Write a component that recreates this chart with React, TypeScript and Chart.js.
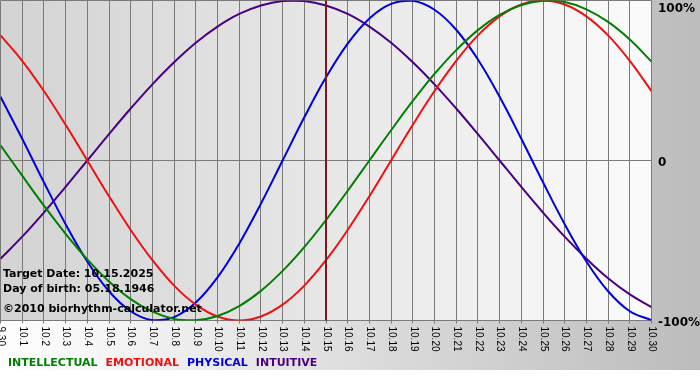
import React, { useEffect, useRef } from "react";
import { Chart, registerables } from "chart.js";

Chart.register(...registerables);

const dayLabels = [
  "9.30", "10.1", "10.2", "10.3", "10.4", "10.5", "10.6", "10.7", "10.8", "10.9", "10.10",
  "10.11", "10.12", "10.13", "10.14", "10.15", "10.16", "10.17", "10.18", "10.19", "10.20",
  "10.21", "10.22", "10.23", "10.24", "10.25", "10.26", "10.27", "10.28", "10.29", "10.30",
];

const intellectual = [
  9.5, -9.5, -28.2, -45.8, -61.8, -75.6, -86.6, -94.5, -99.0, -99.9, -97.2, -91.0, -81.5, -69.0,
  -54.1, -37.2, -18.9, 0, 18.9, 37.2, 54.1, 69.0, 81.5, 91.0, 97.2, 99.9, 99.0, 94.5, 86.6, 75.6, 61.8,
];
const emotional = [
  78.2, 62.3, 43.4, 22.3, 0, -22.3, -43.4, -62.3, -78.2, -90.1, -97.5, -100, -97.5, -90.1, -78.2,
  -62.3, -43.4, -22.3, 0, 22.3, 43.4, 62.3, 78.2, 90.1, 97.5, 100, 97.5, 90.1, 78.2, 62.3, 43.4,
];
const physical = [
  39.8, 13.6, -13.6, -39.8, -63.1, -81.7, -94.2, -99.8, -97.9, -88.8, -73.1, -52.0, -27.0, 0, 27.0,
  52.0, 73.1, 88.8, 97.9, 99.8, 94.2, 81.7, 63.1, 39.8, 13.6, -13.6, -39.8, -63.1, -81.7, -94.2, -99.8,
];
const intuitive = [
  -61.4, -47.6, -32.5, -16.5, 0, 16.5, 32.5, 47.6, 61.4, 73.6, 83.7, 91.6, 96.9, 99.7, 99.7, 96.9,
  91.6, 83.7, 73.6, 61.4, 47.6, 32.5, 16.5, 0, -16.5, -32.5, -47.6, -61.4, -73.6, -83.7, -91.6,
];

const seriesNames = ["INTELLECTUAL", "EMOTIONAL", "PHYSICAL", "INTUITIVE"];
const seriesColors = ["#008000", "#ee1111", "#0000dd", "#4b0082"];
const yTickValues = [100, 0, -100];
const yTickLabels = ["100%", "0", "-100%"];
const targetDay = "10.15";
const infoLines = ["Target Date: 10.15.2025", "Day of birth: 05.18.1946", "\u00a92010 biorhythm-calculator.net"];

const BOLD = "bold 11px 'DejaVu Sans'";

const decorPlugin = {
  id: "decor",
  beforeDraw(chart: any) {
    const { ctx, chartArea: a, width, height } = chart;
    ctx.save();
    ctx.fillStyle = "#ffffff";
    ctx.fillRect(0, 0, width, height);
    const g = ctx.createLinearGradient(0, 0, width, 0);
    g.addColorStop(0, "#ffffff");
    g.addColorStop(1, "#bcbcbc");
    ctx.fillStyle = g;
    ctx.fillRect(0, 0, width, 370);
    const pg = ctx.createLinearGradient(a.left, 0, a.right, 0);
    pg.addColorStop(0, "#d3d3d3");
    pg.addColorStop(1, "#fbfbfb");
    ctx.fillStyle = pg;
    ctx.fillRect(a.left, a.top, a.right - a.left, a.bottom - a.top);
    ctx.restore();
  },
  beforeDatasetsDraw(chart: any) {
    const { ctx, chartArea: a, scales } = chart;
    const xs = scales.x;
    const ys = scales.y;
    ctx.save();
    ctx.strokeStyle = "#7a7a7a";
    ctx.lineWidth = 1;
    dayLabels.forEach((_, i) => {
      const px = Math.floor(xs.getPixelForValue(i)) + 0.5;
      ctx.beginPath();
      ctx.moveTo(px, a.top);
      ctx.lineTo(px, a.bottom + 3);
      ctx.stroke();
    });
    yTickValues.forEach((v) => {
      const py = Math.floor(ys.getPixelForValue(v)) + 0.5;
      ctx.beginPath();
      ctx.moveTo(a.left, py);
      ctx.lineTo(a.right, py);
      ctx.stroke();
    });
    ctx.restore();
  },
  afterDatasetsDraw(chart: any) {
    const { ctx, chartArea: a, scales } = chart;
    const xs = scales.x;
    const ys = scales.y;
    ctx.save();
    // target date marker
    const ti = dayLabels.indexOf(targetDay);
    const tx = Math.floor(xs.getPixelForValue(ti));
    ctx.strokeStyle = "#7a1a1a";
    ctx.lineWidth = 2;
    ctx.beginPath();
    ctx.moveTo(tx, a.top);
    ctx.lineTo(tx, a.bottom);
    ctx.stroke();

    // info text
    ctx.fillStyle = "#000000";
    ctx.font = BOLD;
    ctx.textAlign = "left";
    ctx.textBaseline = "alphabetic";
    const infoY = [277, 291.5, 312];
    infoLines.forEach((t, i) => ctx.fillText(t, 3, infoY[i]));

    // x tick labels rotated clockwise
    ctx.font = "10px 'Liberation Sans'";
    ctx.fillStyle = "#000000";
    dayLabels.forEach((lab, i) => {
      const px = xs.getPixelForValue(i);
      ctx.save();
      ctx.translate(px + 0.5, a.bottom + 6);
      ctx.rotate(Math.PI / 2);
      ctx.textAlign = "left";
      ctx.textBaseline = "middle";
      ctx.fillText(lab, 0, 0);
      ctx.restore();
    });

    // right axis labels
    ctx.font = "bold 12px 'DejaVu Sans'";
    ctx.textAlign = "left";
    ctx.textBaseline = "alphabetic";
    yTickValues.forEach((v, i) => {
      const py = ys.getPixelForValue(v);
      ctx.fillText(yTickLabels[i], a.right + 6.5, Math.max(py + 5.8, 12));
    });

    // legend
    ctx.font = BOLD;
    let lx = 8;
    seriesNames.forEach((n, i) => {
      ctx.fillStyle = seriesColors[i];
      ctx.fillText(n, lx, 366);
      lx += ctx.measureText(n).width + 8;
    });
    ctx.restore();
  },
};

export default function App() {
  const ref = useRef<HTMLCanvasElement | null>(null);
  useEffect(() => {
    if (!ref.current) return;
    const series = [intellectual, emotional, physical, intuitive];
    const chart = new Chart(ref.current, {
      type: "line",
      data: {
        labels: dayLabels.map((_, i) => i),
        datasets: series.map((d, i) => ({
          label: seriesNames[i],
          data: d.map((v, j) => ({ x: j, y: v })),
          borderColor: seriesColors[i],
          borderWidth: 2,
          pointRadius: 0,
          tension: 0.4,
          fill: false,
        })),
      },
      options: {
        animation: false,
        responsive: false,
        devicePixelRatio: 1,
        layout: { padding: { left: 0.5, right: 48.5, top: 0.5, bottom: 59.5 } },
        scales: {
          x: { type: "linear", min: 0, max: dayLabels.length - 1, display: false },
          y: { type: "linear", min: -100, max: 100, display: false },
        },
        plugins: { legend: { display: false }, tooltip: { enabled: false } },
      },
      plugins: [decorPlugin],
    });
    return () => chart.destroy();
  }, []);
  return (
    <div style={{ position: "fixed", left: 0, top: 0, width: 700, height: 380 }}>
      <canvas ref={ref} width={700} height={380} style={{ width: 700, height: 380, display: "block" }} />
    </div>
  );
}
